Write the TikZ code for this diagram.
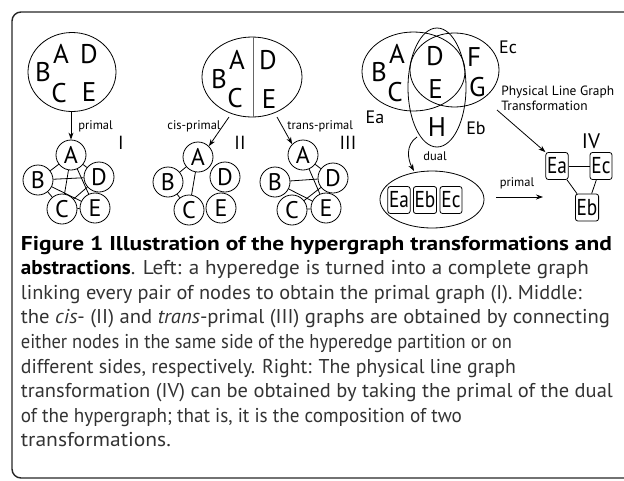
\documentclass[tikz,border=0pt]{standalone}
\usepackage{fontspec}
\usepackage{graphicx}
\setmainfont{PT Sans}
\usetikzlibrary{arrows.meta,shapes.geometric}
\definecolor{captext}{HTML}{333333}
% one caption line, set to a given width
\newcommand{\capfit}[2]{\resizebox{#1pt}{\height}{#2}}
% narrow lettering for the edge boxes
\newcommand{\narrow}[1]{\scalebox{0.84}[1]{#1}}
\begin{document}
\begin{tikzpicture}[x=1pt,y=-1pt,
  line width=0.8pt,
  big/.style={font=\fontsize{27}{27}\selectfont, inner sep=0pt},
  vtx/.style={circle, draw, minimum size=30pt, inner sep=0pt, font=\fontsize{24}{24}\selectfont},
  ebox/.style={draw, rounded corners=2.5pt, inner sep=1.2pt, minimum height=27pt, minimum width=22pt, font=\fontsize{23}{23}\selectfont},
  roman/.style={font=\fontsize{19}{19}\selectfont, inner sep=0pt},
  elbl/.style={font=\fontsize{18}{18}\selectfont, inner sep=0pt},
  tlbl/.style={font=\fontsize{12.5}{12.5}\selectfont, inner sep=0pt},
  plbl/.style={font=\fontsize{13.4}{13.4}\selectfont, inner sep=0pt, anchor=base west},
  arr/.style={-{Stealth[length=7pt,width=5pt]}, line width=0.8pt},
  capline/.style={anchor=base west, inner sep=0pt, text=captext, font=\fontsize{20}{20}\selectfont},
]
\useasboundingbox (0,0) rectangle (624,480);

% outer frame
\draw[line width=1.4pt, black!85, rounded corners=9pt] (12,12) rectangle (680,478);

% ---------- primal ----------
\node[draw, ellipse, minimum width=88pt, minimum height=79pt, inner sep=0pt] (h1) at (72,72) {};
\node[big] at (61,54) {A};
\node[big] at (89,54) {D};
\node[big] at (43,72) {B};
\node[big] at (59,93) {C};
\node[big] at (89,92) {E};

\node[vtx] (a1) at (71,155) {A};
\node[vtx] (b1) at (38,180) {B};
\node[vtx] (d1) at (99,177) {D};
\node[vtx] (c1) at (62,209) {C};
\node[vtx] (e1) at (95,208) {E};
\foreach \u/\v in {a1/b1,a1/c1,a1/d1,a1/e1,b1/c1,b1/d1,b1/e1,c1/d1,c1/e1,d1/e1}
  \draw (\u) -- (\v);
\draw[arr] (h1.south -| a1) -- (a1.north);
\node[tlbl, anchor=west] at (78,126) {primal};
\node[roman] at (121,143) {I};

% ---------- cis / trans ----------
\node[draw, ellipse, minimum width=100pt, minimum height=80pt, inner sep=0pt] (h2) at (252,77) {};
\draw[black!60] (h2.north -| 253,0) -- (h2.south -| 253,0);
\node[big] at (237,60) {A};
\node[big] at (268,60) {D};
\node[big] at (219,79) {B};
\node[big] at (235,98) {C};
\node[big] at (269,99) {E};

\node[vtx] (a2) at (198,157) {A};
\node[vtx] (b2) at (168,182) {B};
\node[vtx] (c2) at (189,210) {C};
\node[vtx] (d2) at (225,177) {D};
\node[vtx] (e2) at (221,208) {E};
\foreach \u/\v in {a2/b2,a2/c2,b2/c2,d2/e2}
  \draw (\u) -- (\v);

\node[vtx] (a3) at (303,155) {A};
\node[vtx] (b3) at (275,182) {B};
\node[vtx] (c3) at (292,210) {C};
\node[vtx] (d3) at (333,178) {D};
\node[vtx] (e3) at (326,208) {E};
\foreach \u/\v in {a3/d3,a3/e3,b3/d3,b3/e3,c3/d3,c3/e3}
  \draw (\u) -- (\v);

\coordinate (cisA) at (229,117);
\coordinate (transA) at (277,117);
\draw[arr] (cisA) -- (a2.north east);
\draw[arr] (transA) -- (a3.north west);
\node[tlbl, anchor=east] at (221,126) {cis-primal};
\node[tlbl, anchor=west] at (287,126) {trans-primal};
\node[roman] at (240,143) {II};
\node[roman] at (348,143) {III};

% ---------- hypergraph, dual and line graph ----------
\draw (413.5,71.5) ellipse [x radius=51.5, y radius=39.5];
\draw (454.5,70) ellipse [x radius=44.5, y radius=37];
\draw (437,87.5) ellipse [x radius=29, y radius=59.5];
\node[big] at (397,54) {A};
\node[big] at (379,72) {B};
\node[big] at (395,92.5) {C};
\node[big] at (435,56) {D};
\node[big] at (435.5,89) {E};
\node[big] at (474,57) {F};
\node[big] at (477.5,87) {G};
\node[big] at (437,127) {H};
\node[elbl] at (508,47) {Ec};
\node[elbl] at (375,117) {Ea};
\node[elbl] at (476,128) {Eb};

\node[plbl] (plg) at (501,95) {Physical Line Graph};
\node[plbl] at (501,110) {Transformation};

% dual hypergraph
\node[draw, ellipse, minimum width=104pt, minimum height=57pt, inner sep=0pt] (dl) at (432,199.5) {};
\node[ebox] (da) at (399,200) {\narrow{Ea}};
\node[ebox] (db) at (425,200) {\narrow{Eb}};
\node[ebox] (dc) at (451,200) {\narrow{Ec}};
\coordinate (hstart) at (417,137);
\coordinate (dualend) at (414,171);
\draw[arr] (hstart) .. controls (405,145) and (408,160) .. (dualend);
\node[tlbl] at (435,156) {dual};

% line graph
\node[ebox] (la) at (557,166) {\narrow{Ea}};
\node[ebox] (lc) at (601,166) {\narrow{Ec}};
\node[ebox] (lb) at (587,207.5) {\narrow{Eb}};
\draw (la) -- (lc);
\draw (la) -- (lb);
\draw (lc) -- (lb);
\node[roman, font=\fontsize{21}{21}\selectfont] at (591,141) {IV};

\coordinate (plgA) at (497,110);
\draw[arr] (plgA) -- (la.north west);
\coordinate (pstart) at (496,197);
\coordinate (pend) at (543,197);
\draw[arr] (pstart) -- (pend);
\node[tlbl] at (517,183) {primal};

% ---------- caption ----------
\node[capline, text=black] at (20.5,250) {\capfit{591}{\textbf{Figure 1 Illustration of the hypergraph transformations and}}};
\node[capline] at (20.5,274.6) {\capfit{568}{\textbf{\color{black}abstractions}. Left: a hyperedge is turned into a complete graph}};
\node[capline] at (20.5,299.2) {\capfit{561}{linking every pair of nodes to obtain the primal graph (I). Middle:}};
\node[capline] at (20.5,323.8) {\capfit{589}{the \textit{cis}- (II) and \textit{trans}-primal (III) graphs are obtained by connecting}};
\node[capline] at (20.5,348.4) {\capfit{491}{either nodes in the same side of the hyperedge partition or on}};
\node[capline] at (20.5,373) {\capfit{495}{different sides, respectively. Right: The physical line graph}};
\node[capline] at (20.5,397.6) {\capfit{592}{transformation (IV) can be obtained by taking the primal of the dual}};
\node[capline] at (20.5,422.2) {\capfit{441}{of the hypergraph; that is, it is the composition of two}};
\node[capline] at (20.5,446.8) {\capfit{150}{transformations.}};
\end{tikzpicture}
\end{document}
